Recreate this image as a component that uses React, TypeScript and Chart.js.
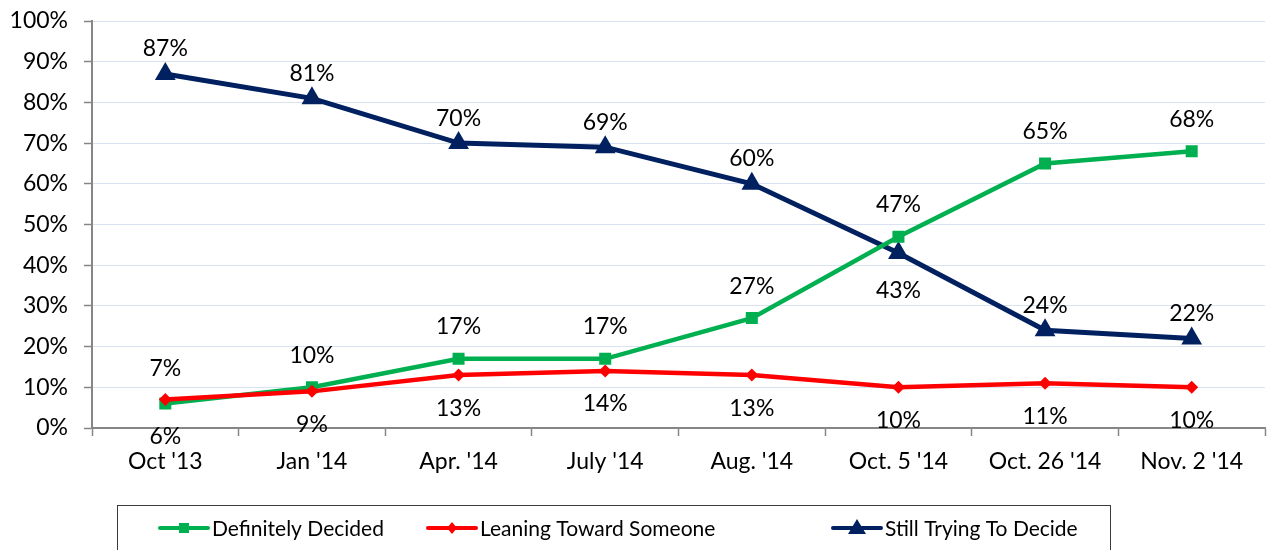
import React, { useEffect, useRef } from "react";
import { Chart, registerables } from "chart.js";

Chart.register(...registerables);

const categories = ["Oct '13", "Jan '14", "Apr. '14", "July '14", "Aug. '14", "Oct. 5 '14", "Oct. 26 '14", "Nov. 2 '14"];
const decided = [6, 10, 17, 17, 27, 47, 65, 68];
const leaning = [7, 9, 13, 14, 13, 10, 11, 10];
const trying = [87, 81, 70, 69, 60, 43, 24, 22];
const decidedPos = ["below", "above", "above", "above", "above", "above", "above", "above"];
const leaningPos = ["above", "below", "below", "below", "below", "below", "below", "below"];
const tryingPos = ["above", "above", "above", "above", "above", "below", "above", "above"];
const yTicks = [0, 10, 20, 30, 40, 50, 60, 70, 80, 90, 100];

const FONT = "Lato, 'Open Sans', sans-serif";
const FS = 23;
const LFS = 21;

const labelPlugin = {
  id: "pointLabels",
  afterDatasetsDraw(chart: any) {
    const ctx = chart.ctx;
    ctx.save();
    ctx.font = `${FS}px ${FONT}`;
    ctx.fillStyle = "#000";
    ctx.textAlign = "center";
    ctx.textBaseline = "middle";
    chart.data.datasets.forEach((ds: any, di: number) => {
      const meta = chart.getDatasetMeta(di);
      meta.data.forEach((pt: any, i: number) => {
        const pos = ds.labelPos[i];
        const off = pos === "above" ? -ds.offAbove : ds.offBelow;
        ctx.fillText(ds.data[i] + "%", pt.x, pt.y + off);
      });
    });
    ctx.restore();
  },
};

const legendPlugin = {
  id: "boxLegend",
  afterDraw(chart: any) {
    const ctx = chart.ctx;
    ctx.save();
    ctx.strokeStyle = "#3a3a3a";
    ctx.lineWidth = 1;
    ctx.strokeRect(117.5, 505.5, 993, 60);
    const xs = [160, 428, 833];
    const y = 528;
    const dsOrder = [0, 1, 2];
    ctx.font = `${LFS}px ${FONT}`;
    ctx.textBaseline = "middle";
    ctx.textAlign = "left";
    dsOrder.forEach((di, k) => {
      const ds = chart.data.datasets[di];
      const x0 = xs[k];
      ctx.strokeStyle = ds.borderColor;
      ctx.lineWidth = 4;
      ctx.lineCap = "round";
      ctx.beginPath();
      ctx.moveTo(x0, y);
      ctx.lineTo(x0 + 48, y);
      ctx.stroke();
      ctx.fillStyle = ds.borderColor;
      const cx = x0 + 24;
      if (ds.pointStyle === "rect") {
        ctx.fillRect(cx - 5, y - 5, 10, 10);
      } else if (ds.pointStyle === "rectRot") {
        ctx.beginPath();
        ctx.moveTo(cx, y - 6);
        ctx.lineTo(cx + 5, y);
        ctx.lineTo(cx, y + 6);
        ctx.lineTo(cx - 5, y);
        ctx.closePath();
        ctx.fill();
      } else {
        ctx.beginPath();
        ctx.moveTo(cx, y - 9);
        ctx.lineTo(cx + 9, y + 6);
        ctx.lineTo(cx - 9, y + 6);
        ctx.closePath();
        ctx.fill();
      }
      ctx.fillStyle = "#000";
      ctx.fillText(ds.label, x0 + 52, y + 1);
    });
    ctx.restore();
  },
};

export default function App() {
  const ref = useRef<HTMLCanvasElement>(null);
  useEffect(() => {
    if (!ref.current) return;
    const chart = new Chart(ref.current, {
      type: "line",
      data: {
        labels: categories,
        datasets: [
          {
            label: "Definitely Decided",
            data: decided,
            borderColor: "#00B050",
            backgroundColor: "#00B050",
            borderWidth: 4.5,
            pointStyle: "rect",
            pointRadius: 8.5,
            pointBorderWidth: 0,
            order: 1,
            labelPos: decidedPos,
            offAbove: 32,
            offBelow: 33,
          } as any,
          {
            label: "Leaning Toward Someone",
            data: leaning,
            borderColor: "#FF0000",
            backgroundColor: "#FF0000",
            borderWidth: 4.5,
            pointStyle: "rectRot",
            pointRadius: 6.5,
            pointBorderWidth: 0,
            order: 0,
            labelPos: leaningPos,
            offAbove: 31,
            offBelow: 33,
          } as any,
          {
            label: "Still Trying To Decide",
            data: trying,
            borderColor: "#002060",
            backgroundColor: "#002060",
            borderWidth: 5,
            pointStyle: "triangle",
            pointRadius: 12,
            pointBorderWidth: 0,
            order: 2,
            labelPos: tryingPos,
            offAbove: 25,
            offBelow: 38,
          } as any,
        ],
      },
      options: {
        responsive: false,
        animation: false,
        events: [],
        layout: { autoPadding: false, padding: { top: 21, right: 4, left: 0, bottom: 0 } },
        plugins: { legend: { display: false }, tooltip: { enabled: false } },
        elements: { line: { tension: 0 } },
        scales: {
          x: {
            offset: true,
            grid: {
              offset: true,
              drawOnChartArea: false,
              drawTicks: true,
              tickLength: 8,
              tickColor: "#868686",
              tickWidth: 1.5,
            },
            border: { color: "#868686", width: 2 },
            ticks: { color: "#000", font: { family: FONT, size: FS }, padding: 12 },
            afterFit(scale: any) {
              scale.height = 122;
              scale.paddingLeft = 0;
              scale.paddingRight = 0;
            },
          },
          y: {
            min: 0,
            max: 100,
            afterBuildTicks(scale: any) {
              scale.ticks = yTicks.map((v) => ({ value: v }));
            },
            grid: {
              color: "#D9E2F0",
              lineWidth: 1,
              drawTicks: true,
              tickLength: 8,
              tickColor: "#868686",
              tickWidth: 1.5,
            },
            border: { color: "#868686", width: 2 },
            ticks: {
              color: "#000",
              font: { family: FONT, size: FS },
              padding: 16,
              callback: (v: any) => v + "%",
            },
            afterFit(scale: any) {
              scale.width = 92;
              scale.paddingTop = 0;
              scale.paddingBottom = 0;
            },
          },
        },
      },
      plugins: [labelPlugin, legendPlugin],
    });
    return () => chart.destroy();
  }, []);
  return (
    <div style={{ position: "absolute", left: 0, top: 0, width: 1269, height: 550, background: "#fff" }}>
      <canvas ref={ref} width={1269} height={550} />
    </div>
  );
}
